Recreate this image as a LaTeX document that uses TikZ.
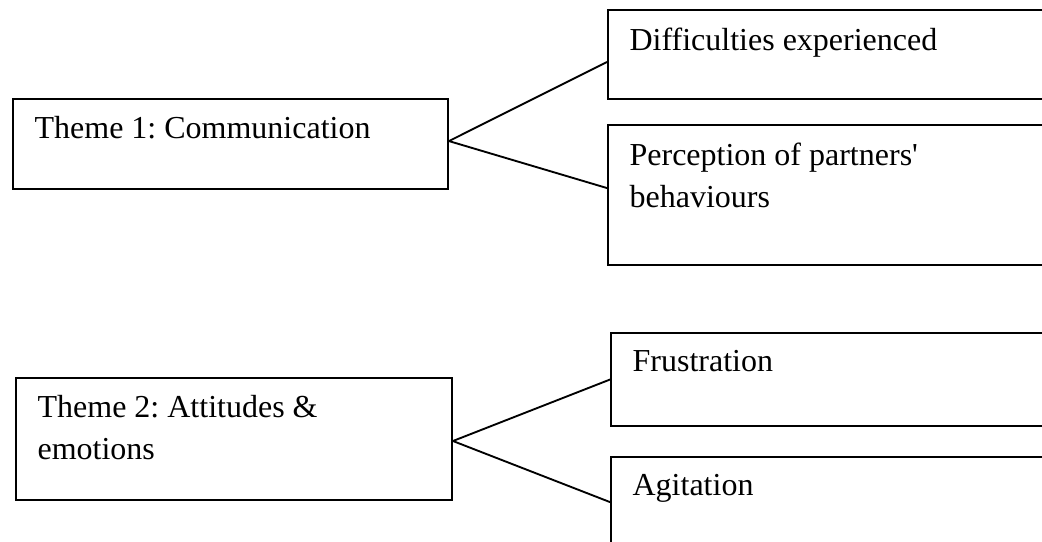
\documentclass[tikz,border=0pt]{standalone}
\usepackage{fontspec}
\setmainfont{Liberation Serif}
\usetikzlibrary{fit}
\frenchspacing

\begin{document}
\begin{tikzpicture}[
  x=0.375pt,y=-0.375pt,
  box/.style={draw,line width=0.7pt,inner sep=0pt},
  lbl/.style={anchor=north west,align=left,inner sep=0pt,font=\fontsize{12}{15.75}\selectfont},
  link/.style={line width=0.7pt}
]
  \useasboundingbox (0,0) rectangle (1042,541);
  % theme 1
  \node[box,fit={(13,99) (448,189)}] (t1) {};
  \node[box,fit={(608,10) (1050,99)}] (dif) {};
  \node[box,fit={(608,125) (1050,265)}] (per) {};
  \node[lbl] (t1l) at ([shift={(22,18)}]t1.north west) {Theme 1: Communication};
  \node[lbl] (difl) at ([shift={(22,18)}]dif.north west) {Difficulties experienced};
  \node[lbl] (perl) at ([shift={(22,18)}]per.north west) {Perception of partners\textquotesingle\\behaviours};
  \draw[link] ([yshift=1.1pt]t1.east) -- ([yshift=-2.8pt]dif.west);
  \draw[link] ([yshift=1.1pt]t1.east) -- ([yshift=2.6pt]per.west);
  % theme 2
  \node[box,fit={(16,378) (452,500)}] (t2) {};
  \node[box,fit={(611,333) (1050,426)}] (fru) {};
  \node[box,fit={(611,457) (1050,560)}] (agi) {};
  \node[lbl] (t2l) at ([shift={(22,18)}]t2.north west) {Theme 2: Attitudes \&\\emotions};
  \node[lbl] (frul) at ([shift={(22,18)}]fru.north west) {Frustration};
  \node[lbl] (agil) at ([shift={(22,18)}]agi.north west) {Agitation};
  \draw[link] ([yshift=-0.75pt]t2.east) -- (fru.west);
  \draw[link] ([yshift=-0.75pt]t2.east) -- ([yshift=2.4pt]agi.west);
\end{tikzpicture}
\end{document}
